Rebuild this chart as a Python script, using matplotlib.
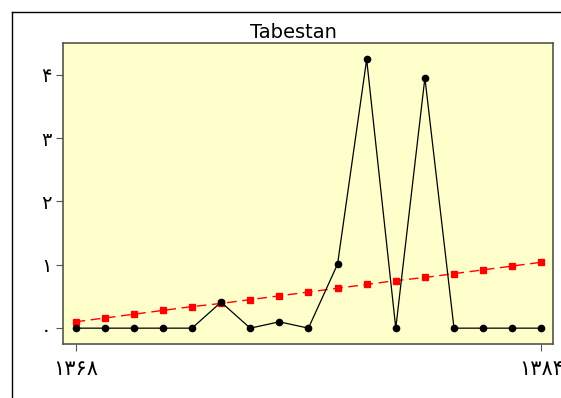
#!/usr/bin/env python3
"""Tabestan series with linear trend, Persian digit tick labels."""

import matplotlib

matplotlib.use("Agg")
import matplotlib.pyplot as plt
from matplotlib.lines import Line2D

BG_COLOR = "#FFFFCC"
SPINE_COLOR = "#55554A"
TREND_COLOR = "#FF0000"

years = list(range(1368, 1385))
values = [0.0, 0.0, 0.0, 0.0, 0.0, 0.41, 0.0, 0.1, 0.0, 1.01,
          4.24, 0.0, 3.95, 0.0, 0.0, 0.0, 0.0]
trend = [0.10, 0.16, 0.22, 0.28, 0.34, 0.39, 0.45, 0.51, 0.57, 0.63,
         0.69, 0.75, 0.80, 0.86, 0.92, 0.98, 1.04]
y_ticks = [0, 1, 2, 3, 4]
y_labels = ["۰", "۱", "۲", "۳", "۴"]
x_ticks = [1368, 1384]
x_labels = ["۱۳۶۸", "۱۳۸۴"]

W, H = 561, 398
fig = plt.figure(figsize=(W / 100, H / 100), dpi=100)
ax = fig.add_axes([62.7 / W, 1 - 344 / H, (553 - 62.7) / W, (344 - 43) / H])
ax.set_facecolor(BG_COLOR)

ax.plot(years, trend, color=TREND_COLOR, linestyle=(0, (7, 4)), linewidth=1.0,
        marker="s", markersize=4, zorder=2)
ax.plot(years, values, color="black", linewidth=0.9, marker="o", markersize=4.5, zorder=3)

ax.set_xlim(1367.56, 1384.4)
ax.set_ylim(-0.25, 4.5)
ax.set_xticks(x_ticks)
ax.set_xticklabels(x_labels, fontsize=15, family="DejaVu Sans")
ax.set_yticks(y_ticks)
ax.set_yticklabels(y_labels, fontsize=14, family="DejaVu Sans")
ax.tick_params(axis="x", length=5, pad=6, color="#555555")
ax.tick_params(axis="y", length=5, pad=3, color="#555555")
for side in ("left", "top", "right", "bottom"):
    ax.spines[side].set_color(SPINE_COLOR)
    ax.spines[side].set_linewidth(1.2)

fig.text(293 / W, 1 - 42 / H, "Tabestan", ha="center", va="bottom", fontsize=14)

# outer frame, partly cut by the image edge
fig.add_artist(Line2D([11.5 / W, 11.5 / W], [0, 1 - 11.5 / H], color="black", linewidth=1.0))
fig.add_artist(Line2D([11.5 / W, 1], [1 - 11.5 / H, 1 - 11.5 / H], color="black", linewidth=1.0))

fig.savefig("out.png", dpi=100, facecolor="white")
plt.close(fig)
